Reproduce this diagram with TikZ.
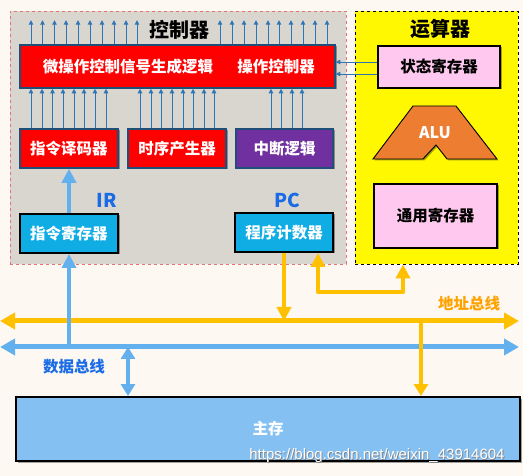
\documentclass[tikz,border=0pt]{standalone}
\usepackage{fontspec}
\setmainfont{Noto Sans CJK SC}
\newfontfamily\wmfont{Liberation Sans}
\usetikzlibrary{arrows.meta,shadows,calc}
\definecolor{bgc}{HTML}{FDF8F2}
\definecolor{ctrlfill}{HTML}{D9D5CF}
\definecolor{ctrlborder}{HTML}{E57373}
\definecolor{redbox}{HTML}{FF0000}
\definecolor{navyb}{HTML}{1F4E79}
\definecolor{purplebox}{HTML}{7030A0}
\definecolor{cyanbox}{HTML}{10ACE4}
\definecolor{pinkbox}{HTML}{FFC9EF}
\definecolor{yellowbox}{HTML}{FFF800}
\definecolor{aluorange}{HTML}{ED7D31}
\definecolor{busorange}{HTML}{FFC000}
\definecolor{busblue}{HTML}{62B0EE}
\definecolor{memfill}{HTML}{85C0F2}
\definecolor{lblblue}{HTML}{1A6CE6}
\definecolor{lblorange}{HTML}{FFA200}
\definecolor{thinblue}{HTML}{2E75B6}
\tikzset{
  shadowed/.style={drop shadow={shadow xshift=1.5pt,shadow yshift=-1.5pt,opacity=0.35,fill=black}},
  boxfont/.style={font=\fontsize{15.5}{18}\selectfont\bfseries},
  ctrlbox/.style={shadowed,draw=navyb,line width=1.6pt,inner sep=0pt,text=white,boxfont},
  blackbox/.style={shadowed,draw=black,line width=2pt,inner sep=0pt,boxfont},
  thinarrow/.style={draw=thinblue,line width=0.9pt,-{Triangle[length=4.5pt,width=4.5pt]}},
  obus/.style={draw=busorange,line width=5pt,{Triangle[length=15pt,width=16pt]}-{Triangle[length=15pt,width=16pt]}},
  bbus/.style={draw=busblue,line width=5pt,{Triangle[length=15pt,width=16pt]}-{Triangle[length=15pt,width=16pt]}},
  oarrow/.style={draw=busorange,line width=4.5pt,-{Triangle[length=14pt,width=14pt]}},
  barrow/.style={draw=busblue,line width=4.5pt,-{Triangle[length=14pt,width=14pt]}},
  titlefont/.style={font=\fontsize{20}{24}\selectfont\bfseries},
}
\begin{document}
\begin{tikzpicture}[x=1pt,y=-1pt]
\useasboundingbox[fill=bgc] (0,0) rectangle (523,476);
% regions
\node[draw=ctrlborder,dashed,fill=ctrlfill,line width=0.8pt,minimum width=336pt,minimum height=253pt,inner sep=0pt] (ctrl) at (178,137.5) {};
\node[draw=black,dashed,fill=yellowbox,line width=0.8pt,minimum width=163pt,minimum height=253pt,inner sep=0pt] (arith) at (436.5,137.5) {};
\node[titlefont] (ctrltitle) at (179,30) {控制器};
\node[titlefont] (arithtitle) at (440,29) {运算器};
% controller boxes
\node[ctrlbox,fill=redbox,minimum width=315pt,minimum height=43pt] (mcu) at (177.5,66.5) {};
\node[text=white,boxfont] (mcut1) at (128,67) {微操作控制信号生成逻辑};
\node[text=white,boxfont] (mcut2) at (276,67) {操作控制器};
\node[ctrlbox,fill=redbox,minimum width=98pt,minimum height=39pt] (dec) at (69,148.5) {指令译码器};
\node[ctrlbox,fill=redbox,minimum width=98pt,minimum height=39pt] (seq) at (177,148.5) {时序产生器};
\node[ctrlbox,fill=purplebox,minimum width=97pt,minimum height=39pt] (intr) at (284.5,148.5) {中断逻辑};
\node[blackbox,fill=cyanbox,text=white,minimum width=98pt,minimum height=39pt] (ir) at (69,233.5) {指令寄存器};
\node[blackbox,fill=cyanbox,text=white,minimum width=98pt,minimum height=39pt] (pc) at (284,232.5) {程序计数器};
\node[text=lblblue,font=\fontsize{19}{22}\selectfont\bfseries] (irl) at (107,200) {IR};
\node[text=lblblue,font=\fontsize{19}{22}\selectfont\bfseries] (pcl) at (287,200) {PC};
% arithmetic unit
\node[blackbox,fill=pinkbox,minimum width=122pt,minimum height=42pt] (psw) at (439,67) {状态寄存器};
\draw[draw=black,fill=aluorange,line width=0.9pt,shadowed] (373,159) -- (423,159) -- (436,145) -- (447,159) -- (497,159) -- (456,106) -- (413,106) -- cycle;
\node[text=white,font=\fontsize{16}{19}\selectfont\bfseries] (alu) at (435,133) {ALU};
\node[blackbox,fill=pinkbox,minimum width=123pt,minimum height=64pt] (gpr) at (435.5,216) {通用寄存器};
% memory
\node[blackbox,fill=memfill,text=white,minimum width=504pt,minimum height=64pt] (mem) at (268,429) {主存};
% thin arrows top
\foreach \x in {31,42.5,54.5,66,78,90,102,114,126,137,220,232,244,256,268,279,291,303,315,327}
  \draw[thinarrow] (\x,0 |- mcu.north) -- ++(0,-24);
% thin arrows between rows
\foreach \x in {31,42,52.5,63,74,84,95,106}
  \draw[thinarrow] (\x,0 |- dec.north) -- (\x,0 |- mcu.south);
\foreach \x in {140,151,161,172,183,193,204,214}
  \draw[thinarrow] (\x,0 |- seq.north) -- (\x,0 |- mcu.south);
\foreach \x in {271,281,292,302}
  \draw[thinarrow] (\x,0 |- intr.north) -- (\x,0 |- mcu.south);
% status register arrows
\draw[thinarrow] (psw.west |- 0,62) -- (mcu.east |- 0,62);
\draw[thinarrow] (psw.west |- 0,74) -- (mcu.east |- 0,74);
% IR -> decoder
\draw[barrow] (ir.north) -- (dec.south);
% buses
\coordinate (abl) at (0,321);
\coordinate (abr) at (519,321);
\coordinate (dbl) at (0,347);
\coordinate (dbr) at (519,347);
\draw[obus] (abl) -- (abr);
\draw[bbus] (dbl) -- (dbr);
% connections
\draw[barrow] (ir.south |- dbl) -- (ir.south);
\draw[draw=busblue,line width=4.5pt,{Triangle[length=12pt,width=14pt]}-{Triangle[length=12pt,width=14pt]}] (128,0 |- dbl) -- (mem.north -| 128,0);
\draw[oarrow] (pc.south) -- (pc.south |- abl);
\draw[draw=busorange,line width=4.5pt,line join=round,{Triangle[length=14pt,width=14pt]}-{Triangle[length=14pt,width=14pt]}] (318,0 |- pc.south) -- (318,292) -- (403,292) -- (arith.south -| 403,0);
\draw[draw=busorange,line width=4.5pt,-{Triangle[length=12pt,width=14pt]}] (421,0 |- abl) -- (mem.north -| 421,0);
% labels
\node[text=lblorange,boxfont] (abus) at (469,304) {地址总线};
\node[text=lblblue,boxfont] (dbus) at (74,367) {数据总线};
% watermark
\node[text=black!50,font=\wmfont\fontsize{15}{18}\selectfont] at (377.8,456.8) {https://blog.csdn.net/weixin\_43914604};
\node[text=white,font=\wmfont\fontsize{15}{18}\selectfont] (wm) at (377,456) {https://blog.csdn.net/weixin\_43914604};
\end{tikzpicture}
\end{document}
